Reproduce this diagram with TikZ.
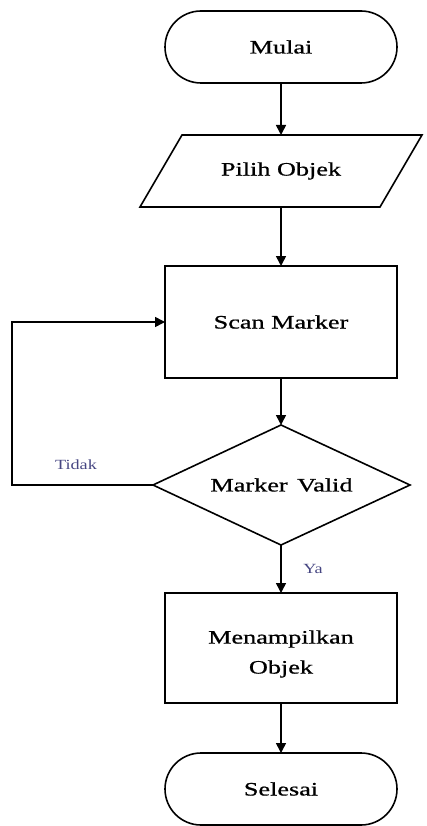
\documentclass[tikz,border=0pt]{standalone}
\usepackage{fontspec}
\setmainfont{Liberation Serif}
\newfontfamily\fcfont[FakeStretch=1.38,FakeBold=0.8]{Liberation Serif}
\newfontfamily\lblfont[FakeStretch=1.3]{Liberation Serif}
\usetikzlibrary{arrows.meta,shapes.geometric}
\definecolor{labelblue}{RGB}{70,70,130}
\tikzset{
  every node/.style={inner sep=0pt, outer sep=0pt},
  txt/.style={font=\fcfont\fontsize{19}{30}\selectfont, align=center},
  lbl/.style={font=\lblfont\fontsize{14}{16}\selectfont, text=labelblue},
  terminal/.style={txt, draw, line width=1.6pt, rectangle, rounded corners=36pt, minimum width=232pt, minimum height=72pt},
  process/.style={txt, draw, line width=1.6pt, rectangle, minimum width=232pt},
  flow/.style={line width=1.6pt, -{Triangle[length=10pt,width=10pt]}},
  plain/.style={line width=1.6pt}
}
\begin{document}
\begin{tikzpicture}[x=1pt,y=-1pt]
\useasboundingbox (0,0) rectangle (426,826);
\node[terminal] (mulai) at (281,47) {Mulai};
\node[txt, minimum width=240pt, minimum height=72pt] (pilih) at (281,171) {Pilih Objek};
\draw[plain] (140,207) -- (182,135) -- (422,135) -- (380,207) -- cycle;
\node[process, minimum height=112pt] (scan) at (281,322) {Scan Marker};
\coordinate (vtop) at (281,425);
\coordinate (vbot) at (281,545);
\coordinate (vleft) at (153,485);
\coordinate (vright) at (410,485);
\draw[plain] (vtop) -- (vright) -- (vbot) -- (vleft) -- cycle;
\node[txt] (valid) at (281.5,485) {Marker\enspace Valid};
\node[process, minimum height=110pt] (tampil) at (281,648) {};
\node[txt] (tampiltxt) at (281,654) {Menampilkan\\Objek};
\node[terminal] (selesai) at (281,789) {Selesai};
\coordinate (loopb) at (12,485);
\coordinate (loopt) at (12,322);
\draw[flow] (mulai.south) -- (281,135);
\draw[flow] (pilih.south) -- (scan.north);
\draw[flow] (scan.south) -- (vtop);
\draw[flow] (vbot) -- (tampil.north);
\draw[flow] (tampil.south) -- (selesai.north);
\draw[flow] (vleft) -- (loopb) -- (loopt) -- (scan.west);
\node[lbl] (tidak) at (76,465) {Tidak};
\node[lbl] (ya) at (313,569) {Ya};
\end{tikzpicture}
\end{document}
